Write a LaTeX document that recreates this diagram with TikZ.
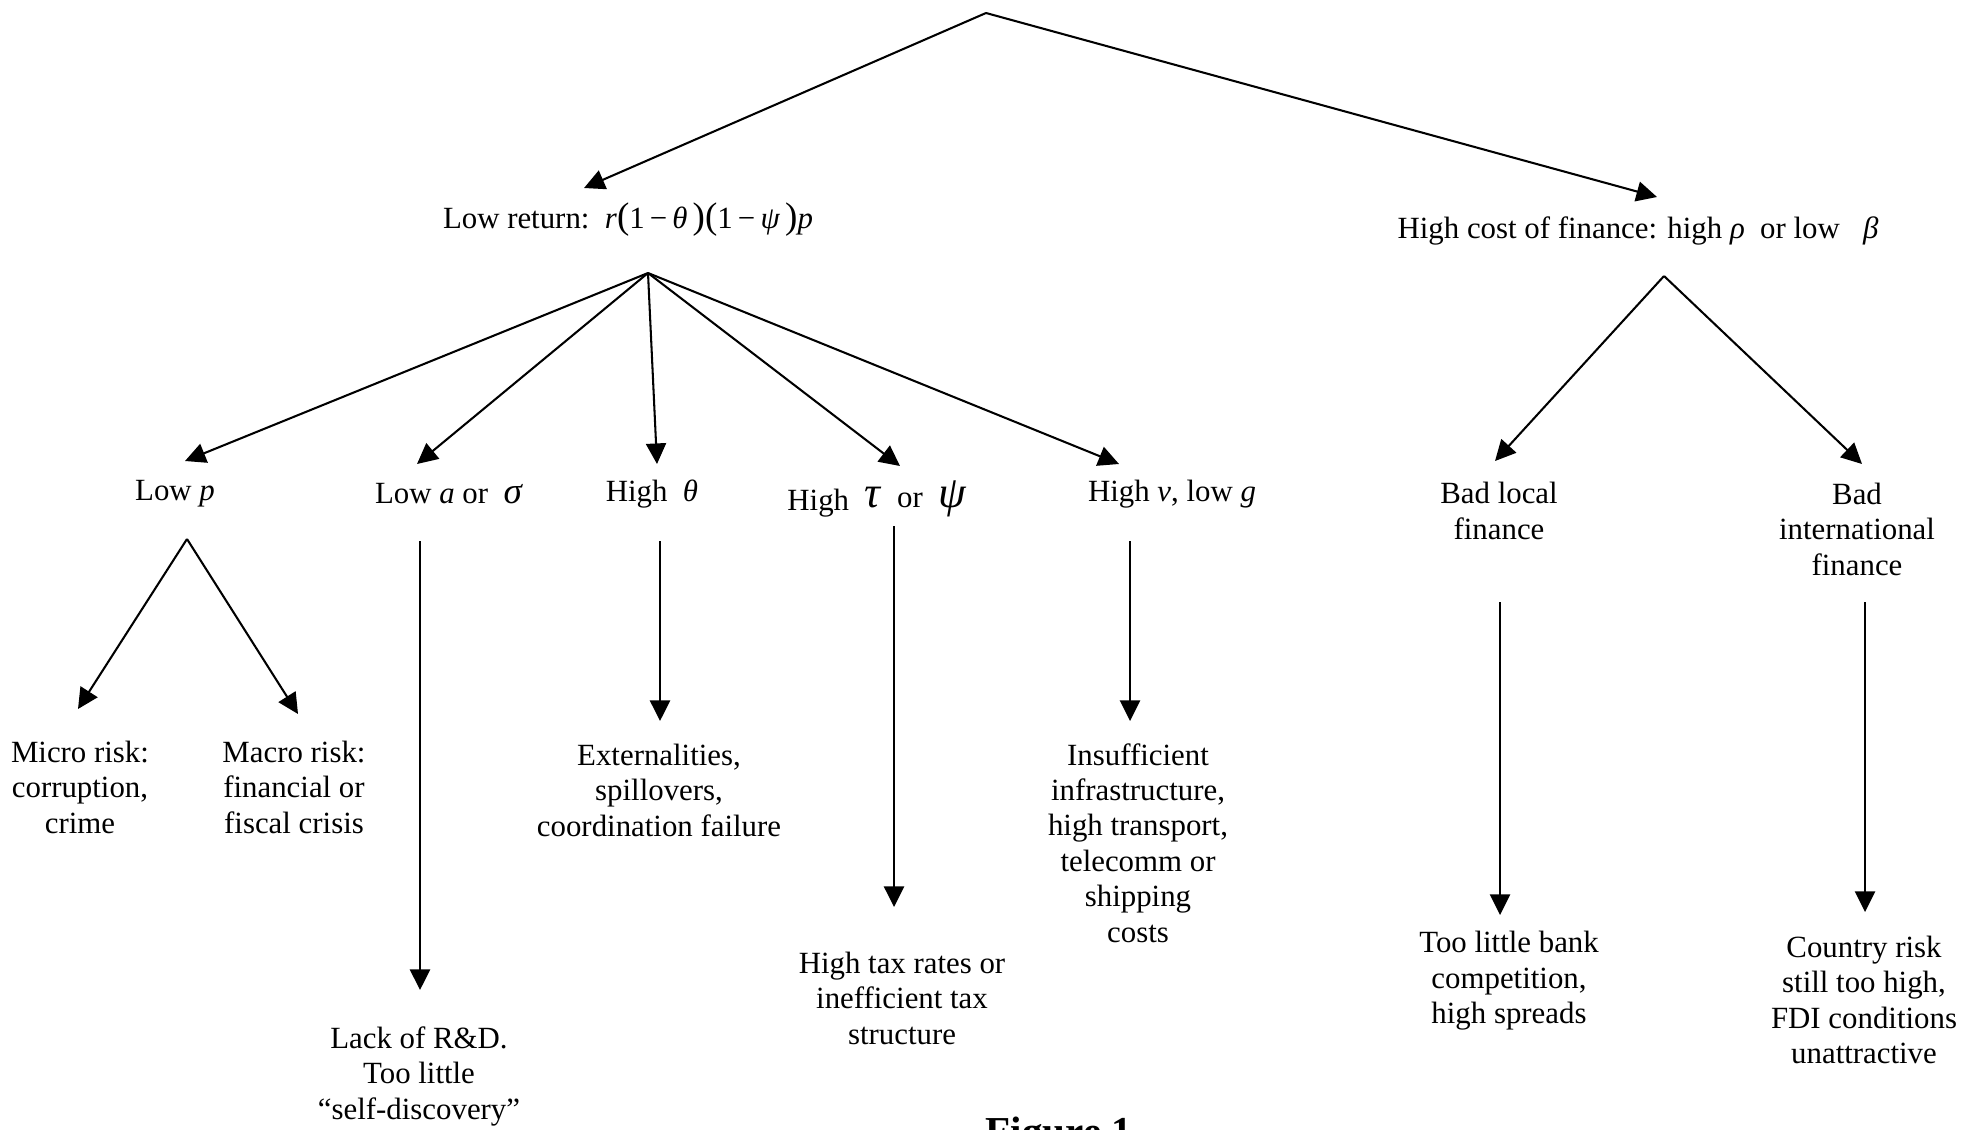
\documentclass[tikz,border=0pt]{standalone}
\usepackage{fontspec}
\setmainfont{Liberation Serif}
\usetikzlibrary{arrows.meta}
\begin{document}
\begin{tikzpicture}[x=0.389pt,y=-0.389pt,
  lbl/.style={inner sep=0pt,align=center,font=\fontsize{12}{13.8}\selectfont},
  conn/.style={line width=0.8pt},
  arr/.style={conn,-{Triangle[length=8pt,width=7.8pt]}}]
\useasboundingbox (0,0) rectangle (1965,1129);
% coordinates
\coordinate (root) at (986,13);
\coordinate (tipL) at (584,188);
\coordinate (tipR) at (1657,197);
\coordinate (brL) at (648,273);
\coordinate (brR) at (1664,276);
\coordinate (tP) at (185,461);
\coordinate (tA) at (417,464);
\coordinate (tT) at (657,464);
\coordinate (tU) at (900,466);
\coordinate (tV) at (1119,464);
\coordinate (tBL) at (1495,461);
\coordinate (tBI) at (1862,464);
\coordinate (brP) at (187,539);
\coordinate (tMi) at (78,709);
\coordinate (tMa) at (298,714);
\coordinate (sA) at (420,541); \coordinate (eA) at (420,990);
\coordinate (sT) at (660,541); \coordinate (eT) at (660,721);
\coordinate (sU) at (894,526); \coordinate (eU) at (894,907);
\coordinate (sV) at (1130,541); \coordinate (eV) at (1130,721);
\coordinate (sBL) at (1500,602); \coordinate (eBL) at (1500,915);
\coordinate (sBI) at (1865,602); \coordinate (eBI) at (1865,912);
% nodes
\node[lbl] (lowret) at (628,220) {Low return:\ \ \textit{r}{\Large(}1\,−\,\textit{θ}\,{\Large)(}1\,−\,\textit{ψ}\,{\Large)}\textit{p}};
\node[lbl] (hicost) at (1638,231) {High cost of finance: high \textit{ρ}\ \ or low\ \ \ \textit{β}};
\node[lbl] (lowp) at (175,494) {Low \textit{p}};
\node[lbl] (lowa) at (449,494) {Low \textit{a} or\ \ {\Large\textit{σ}}};
\node[lbl] (hth) at (652,494) {High\ \ \textit{θ}};
\node[lbl] (htau) at (877,499) {\raisebox{-1pt}{High}\ \ {\LARGE\textit{τ}}\ \ or\ \ {\LARGE\textit{ψ}}};
\node[lbl] (hv) at (1172,494) {High \textit{v}, low \textit{g}};
\node[lbl] (badloc) at (1499,511) {Bad local\\finance};
\node[lbl] (badint) at (1857,529) {Bad\\international\\finance};
\node[lbl] (micro) at (80,787) {Micro risk:\\corruption,\\crime};
\node[lbl] (macro) at (294,787) {Macro risk:\\financial or\\fiscal crisis};
\node[lbl] (lack) at (419,1076) {Lack of R\&D.\\Too little\\“self-discovery”};
\node[lbl] (ext) at (659,790) {Externalities,\\spillovers,\\coordination failure};
\node[lbl] (tax) at (902,998) {High tax rates or\\inefficient tax\\structure};
\node[lbl] (insuf) at (1138,843) {Insufficient\\infrastructure,\\high transport,\\telecomm or\\shipping\\costs};
\node[lbl] (bank) at (1509,981) {Too little bank\\competition,\\high spreads};
\node[lbl] (country) at (1864,1000) {Country risk\\still too high,\\FDI conditions\\unattractive};
\node[inner sep=0pt,anchor=base west,font=\fontsize{16}{19}\selectfont\bfseries] (fig) at (985,1145) {Figure 1};
% connectors
\draw[arr] (root) -- (tipL);
\draw[arr] (root) -- (tipR);
\foreach \t in {tP,tA,tT,tU,tV} \draw[arr] (brL) -- (\t);
\foreach \t in {tBL,tBI} \draw[arr] (brR) -- (\t);
\foreach \t in {tMi,tMa} \draw[arr] (brP) -- (\t);
\draw[arr] (sA) -- (eA);
\draw[arr] (sT) -- (eT);
\draw[arr] (sU) -- (eU);
\draw[arr] (sV) -- (eV);
\draw[arr] (sBL) -- (eBL);
\draw[arr] (sBI) -- (eBI);
\end{tikzpicture}
\end{document}
